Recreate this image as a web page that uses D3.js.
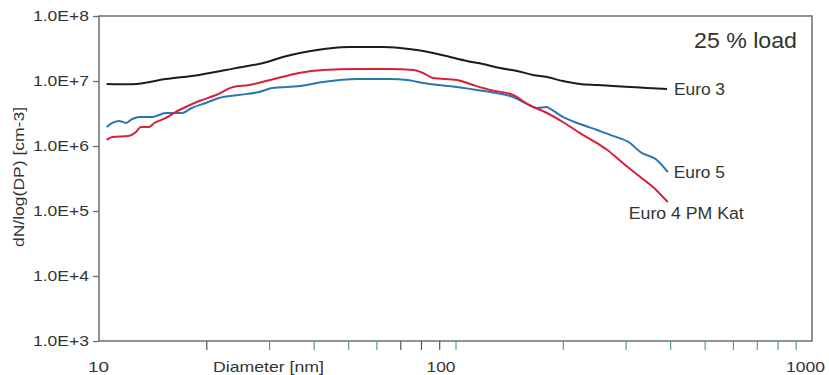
<!DOCTYPE html>
<html lang="en">
<head>
    <meta charset="UTF-8">
    <title>Particle size distribution - 25 % load</title>
    <script src="https://d3js.org/d3.v7.min.js"></script>
    <style>
        body {
            margin: 0;
            background: #fff;
        }

        .line {
            fill: none;
            stroke-width: 2px;
            stroke-linejoin: round;
        }

        .label {
            font-family: "Liberation Sans", Arial, sans-serif;
            font-size: 15px;
            fill: #333;
        }
    </style>
</head>
<body>
    <svg id="chart"></svg>

    <script>
        // diameters [nm] and dN/log(DP) values
        const euro3Diam = [10.5, 12.4, 15.4, 19.1, 23.8, 29.6, 32.8, 36.6, 40.9, 45.3, 50.6, 56.5, 62.6, 69.9, 78, 86.5, 96.5, 107.7, 119.4, 133.3, 148.8, 165, 180.6, 200, 223.5, 249.5, 276.6, 308.7, 344.5, 392];
        const euro3Vals = [9.0e6, 8.9e6, 1.07e7, 1.24e7, 1.55e7, 1.96e7, 2.34e7, 2.7e7, 3.0e7, 3.22e7, 3.33e7, 3.33e7, 3.33e7, 3.22e7, 3.0e7, 2.7e7, 2.34e7, 2.03e7, 1.83e7, 1.58e7, 1.43e7, 1.24e7, 1.15e7, 1.0e7, 9.0e6, 8.7e6, 8.4e6, 8.1e6, 7.8e6, 7.5e6];

        const euro4Diam = [10.5, 10.9, 12.1, 12.7, 13.1, 13.8, 14.3, 15.4, 16.4, 17.5, 19.1, 21.3, 23.8, 26.3, 29.4, 32.6, 36.4, 42.5, 52.9, 65.6, 76.1, 81.1, 86.5, 101, 112, 125, 145, 161, 180.6, 200, 223.5, 249.5, 266.6, 294.6, 330, 358, 394];
        const euro4Vals = [1.24e6, 1.37e6, 1.43e6, 1.64e6, 1.96e6, 1.96e6, 2.26e6, 2.7e6, 3.33e6, 3.98e6, 4.92e6, 6.09e6, 8.09e6, 8.68e6, 1.0e7, 1.15e7, 1.33e7, 1.48e7, 1.53e7, 1.53e7, 1.48e7, 1.33e7, 1.11e7, 1.04e7, 8.68e6, 7.27e6, 6.09e6, 4.27e6, 3.22e6, 2.34e6, 1.58e6, 1.11e6, 8.68e5, 5.47e5, 3.33e5, 2.34e5, 1.37e5];

        const euro5Diam = [10.5, 10.9, 11.4, 11.9, 12.4, 13.0, 14.1, 15.4, 17.1, 18.2, 19.9, 21.7, 24.7, 28.1, 30.6, 36.6, 42.5, 52.9, 65.6, 73.1, 81.1, 101, 125, 145, 161, 169, 180.6, 183, 200, 223.5, 249.5, 276.6, 308.7, 330, 367, 394];
        const euro5Vals = [1.96e6, 2.26e6, 2.43e6, 2.26e6, 2.6e6, 2.8e6, 2.8e6, 3.22e6, 3.22e6, 3.84e6, 4.59e6, 5.47e6, 6.09e6, 6.77e6, 7.8e6, 8.38e6, 9.65e6, 1.07e7, 1.07e7, 1.04e7, 9.31e6, 8.09e6, 6.77e6, 5.68e6, 4.27e6, 3.84e6, 3.98e6, 3.84e6, 2.8e6, 2.18e6, 1.76e6, 1.43e6, 1.11e6, 8.09e5, 6.09e5, 3.98e5];

        const seriesNames = ["Euro 3", "Euro 5", "Euro 4 PM Kat"];
        const seriesColors = ["#1c1c1c", "#2877b5", "#d81f3b"];

        const yTickValues = [1e3, 1e4, 1e5, 1e6, 1e7, 1e8];
        const yTickLabels = ["1.0E+3", "1.0E+4", "1.0E+5", "1.0E+6", "1.0E+7", "1.0E+8"];
        const xTickValues = [20, 30, 40, 50, 60, 70, 80, 90, 100, 200, 300, 400, 500, 600, 700, 800, 900];
        const xDarkTicks = [20, 70, 80, 90];
        const xLabelValues = [10, 100, 1000];
        const xLabelText = ["10", "100", "1000"];

        drawChart();

        function drawChart() {
            const width = 829;
            const height = 375;
            const margin = { top: 16, right: 17, bottom: 34, left: 99 };

            const svg = d3.select("#chart")
                .attr("width", width)
                .attr("height", height);

            const x = d3.scaleLog()
                .domain([10, 1000])
                .range([margin.left, width - margin.right]);

            const y = d3.scaleLog()
                .domain([1e3, 1e8])
                .range([height - margin.bottom, margin.top]);

            // frame
            svg.append("rect")
                .attr("x", x(10))
                .attr("y", y(1e8))
                .attr("width", x(1000) - x(10))
                .attr("height", y(1e3) - y(1e8))
                .attr("fill", "none")
                .attr("stroke", "#6e6e6e")
                .attr("stroke-width", 1.5);

            // y axis
            const yAxis = svg.append("g")
                .attr("transform", "translate(" + x(10) + ",0)")
                .call(d3.axisLeft(y).tickValues(yTickValues).tickSize(6).tickPadding(4)
                    .tickFormat((d, i) => yTickLabels[i]));
            yAxis.select(".domain").remove();
            yAxis.selectAll(".tick line").attr("stroke", "#6e6e6e").attr("stroke-width", 1.3);
            yAxis.selectAll(".tick text")
                .attr("class", "label")
                .attr("textLength", 56)
                .attr("lengthAdjust", "spacingAndGlyphs");

            // x axis ticks (no labels)
            const xAxis = svg.append("g")
                .attr("transform", "translate(0," + y(1e3) + ")")
                .call(d3.axisBottom(x).tickValues(xTickValues).tickSize(9).tickFormat(""));
            xAxis.select(".domain").remove();
            xAxis.selectAll(".tick line")
                .attr("stroke", d => xDarkTicks.includes(d) ? "#555" : "#4aa57a")
                .attr("stroke-width", 1.2);

            // x labels, offset a little like the original
            const xLabelShift = [-11, -29, -26];
            const xLabelLen = [21, 29, 39];
            svg.selectAll(".xlabel")
                .data(xLabelValues)
                .enter().append("text")
                .attr("class", "label")
                .attr("x", (d, i) => x(d) + xLabelShift[i])
                .attr("y", 372)
                .attr("textLength", (d, i) => xLabelLen[i])
                .attr("lengthAdjust", "spacingAndGlyphs")
                .text((d, i) => xLabelText[i]);

            svg.append("text")
                .attr("class", "label")
                .attr("x", 213)
                .attr("y", 372)
                .attr("textLength", 111)
                .attr("lengthAdjust", "spacingAndGlyphs")
                .text("Diameter [nm]");

            svg.append("text")
                .attr("class", "label")
                .attr("transform", "translate(24,177) rotate(-90)")
                .attr("text-anchor", "middle")
                .attr("textLength", 140)
                .attr("lengthAdjust", "spacingAndGlyphs")
                .style("font-size", "14px")
                .text("dN/log(DP) [cm-3]");

            svg.append("text")
                .attr("class", "label")
                .attr("x", 694)
                .attr("y", 48)
                .style("font-size", "22px")
                .attr("textLength", 103)
                .attr("lengthAdjust", "spacingAndGlyphs")
                .text("25 % load");

            const line = d3.line()
                .curve(d3.curveMonotoneX)
                .x(d => x(d[0]))
                .y(d => y(d[1]));

            const series = [
                d3.zip(euro3Diam, euro3Vals),
                d3.zip(euro5Diam, euro5Vals),
                d3.zip(euro4Diam, euro4Vals)
            ];

            series.forEach((pts, i) => {
                svg.append("path")
                    .datum(pts)
                    .attr("class", "line")
                    .attr("d", line)
                    .style("stroke", seriesColors[i]);
            });

            // end labels
            const labelPos = [
                { dx: 7, dy: 0, len: 51 },
                { dx: 6, dy: 0, len: 51 },
                { dx: -39, dy: 11, len: 115 }
            ];
            series.forEach((pts, i) => {
                const last = pts[pts.length - 1];
                svg.append("text")
                    .attr("class", "label")
                    .attr("x", x(last[0]) + labelPos[i].dx)
                    .attr("y", y(last[1]) + labelPos[i].dy)
                    .attr("dy", "0.35em")
                    .style("font-size", "16px")
                    .attr("textLength", labelPos[i].len)
                    .attr("lengthAdjust", "spacingAndGlyphs")
                    .text(seriesNames[i]);
            });
        }
    </script>
</body>
</html>
